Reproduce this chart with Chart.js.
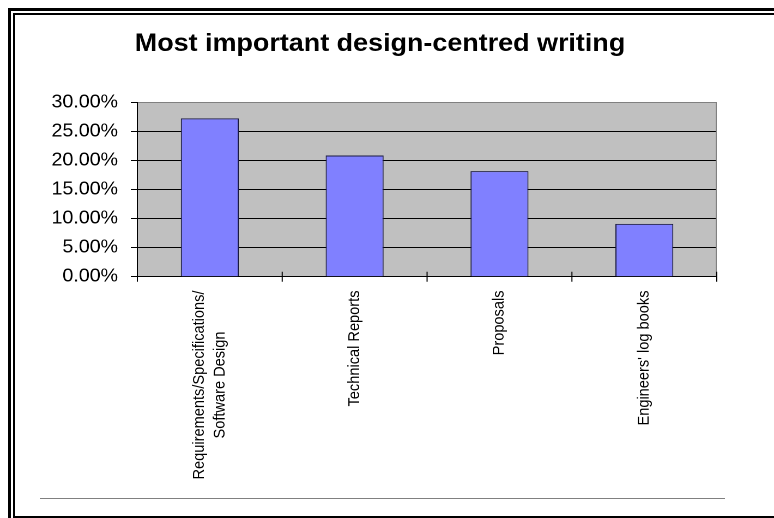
<!DOCTYPE html>
<html>
<head>
<meta charset="utf-8">
<script src="https://cdn.jsdelivr.net/npm/chart.js@4/dist/chart.umd.min.js"></script>
<style>
  html, body { margin: 0; padding: 0; background: #fff; overflow: hidden; }
  #page { position: relative; width: 774px; height: 518px; overflow: hidden; background: #fff; }
  /* the chart is laid out at 710px and widened to the page width */
  #stretch { position: absolute; left: 0; top: 0; width: 710px; height: 518px;
             transform: scaleX(1.090141); transform-origin: 0 0; }
  .frame { position: absolute; box-sizing: border-box; pointer-events: none; border-right: none; }
  #outer { left: 8px; top: 8px; width: 766px; height: 540px;
           border-left: 3px solid #000; border-top: 3px solid #000; }
  #inner { left: 13px; top: 13px; width: 761px; height: 505px;
           border-left: 2px solid #000; border-top: 2px solid #000; border-bottom: 2px solid #000; }
  #rule  { position: absolute; left: 40px; top: 498px; width: 685px; height: 1px; background: #808080; }
</style>
</head>
<body>
<div id="page">
  <div id="stretch"><canvas id="chart" width="710" height="518"></canvas></div>
  <div id="outer" class="frame"></div>
  <div id="inner" class="frame"></div>
  <div id="rule"></div>
</div>
<script>
// Survey: which design-centred writing matters most (share of responses, %)
const categories = [
  ["Requirements/Specifications/", "Software Design"],
  "Technical Reports",
  "Proposals",
  "Engineers' log books"
];
const shares = [27.3, 20.9, 18.2, 9.1];
const yMin = 0;
const yMax = 30;
const yStep = 5;
const chartTitle = "Most important design-centred writing";

const FONT = '"Liberation Sans", Arial, Helvetica, sans-serif';

// grey plot-area fill behind the grid
const plotBackground = {
  id: 'plotBackground',
  beforeDraw(chart) {
    const { ctx, chartArea: a } = chart;
    ctx.save();
    ctx.fillStyle = '#C0C0C0';
    ctx.fillRect(a.left, a.top, a.right - a.left, a.bottom - a.top);
    ctx.restore();
  }
};

// grey right edge of the plot area and category ticks crossing the x axis
const plotEdges = {
  id: 'plotEdges',
  afterDraw(chart) {
    const { ctx, chartArea: a } = chart;
    const x = chart.scales.x;
    ctx.save();
    ctx.lineWidth = 1;
    ctx.strokeStyle = '#808080';
    ctx.beginPath();
    ctx.moveTo(a.right - 0.5, a.top);
    ctx.lineTo(a.right - 0.5, a.bottom);
    ctx.stroke();
    ctx.strokeStyle = '#000';
    ctx.beginPath();
    for (let i = 0; i <= categories.length; i++) {
      const px = x.getPixelForValue(i - 0.5);
      ctx.moveTo(px, a.bottom - 5);
      ctx.lineTo(px, a.bottom + 5);
    }
    ctx.stroke();
    ctx.restore();
  }
};

// vertical category labels, end-aligned under the axis, lines centred on each other
const verticalLabels = {
  id: 'verticalLabels',
  afterDraw(chart) {
    const { ctx, chartArea: a } = chart;
    const x = chart.scales.x;
    const size = 14.6;
    const lineGap = 19.3;
    ctx.save();
    ctx.font = size + 'px ' + FONT;
    ctx.fillStyle = '#000';
    ctx.textAlign = 'center';
    ctx.textBaseline = 'middle';
    categories.forEach((lab, i) => {
      const lines = Array.isArray(lab) ? lab : [lab];
      const len = Math.max(...lines.map(t => ctx.measureText(t).width));
      const cx = x.getPixelForValue(i);
      const cy = a.bottom + 13.8 + len / 2;
      ctx.save();
      ctx.translate(cx, cy);
      ctx.rotate(-Math.PI / 2);
      lines.forEach((t, k) => {
        ctx.fillText(t, 0, (k - (lines.length - 1) / 2) * lineGap);
      });
      ctx.restore();
    });
    ctx.restore();
  }
};

new Chart(document.getElementById('chart'), {
  type: 'bar',
  data: {
    labels: categories,
    datasets: [{
      data: shares,
      backgroundColor: '#8080FF',
      borderColor: '#1a1a40',
      borderWidth: 1,
      barPercentage: 0.4,
      categoryPercentage: 1
    }]
  },
  options: {
    responsive: false,
    devicePixelRatio: 2,
    animation: false,
    layout: { padding: { left: 39.7, right: 52.5, top: 0, bottom: 0 } },
    plugins: {
      legend: { display: false },
      tooltip: { enabled: false },
      title: {
        display: true,
        text: chartTitle,
        color: '#000',
        font: { family: FONT, size: 24.7, weight: 'bold' },
        padding: { top: 29.5, bottom: 43.6 }
      }
    },
    scales: {
      x: {
        grid: { display: false, drawTicks: false },
        border: { display: true, color: '#000', width: 1 },
        ticks: { display: false },
        afterFit(scale) { scale.height = 241.3; }
      },
      y: {
        min: yMin,
        max: yMax,
        ticks: {
          stepSize: yStep,
          color: '#000',
          padding: 11.7,
          font: { family: FONT, size: 18 },
          callback: v => v.toFixed(2) + '%'
        },
        grid: {
          color: c => (c.tick && c.tick.value === yMax) ? '#808080' : '#000',
          tickColor: '#000',
          tickLength: 6,
          lineWidth: 1
        },
        border: { display: true, color: '#000', width: 1 },
        afterFit(scale) { scale.width = 86.3; }
      }
    }
  },
  plugins: [plotBackground, plotEdges, verticalLabels]
});
</script>
</body>
</html>
